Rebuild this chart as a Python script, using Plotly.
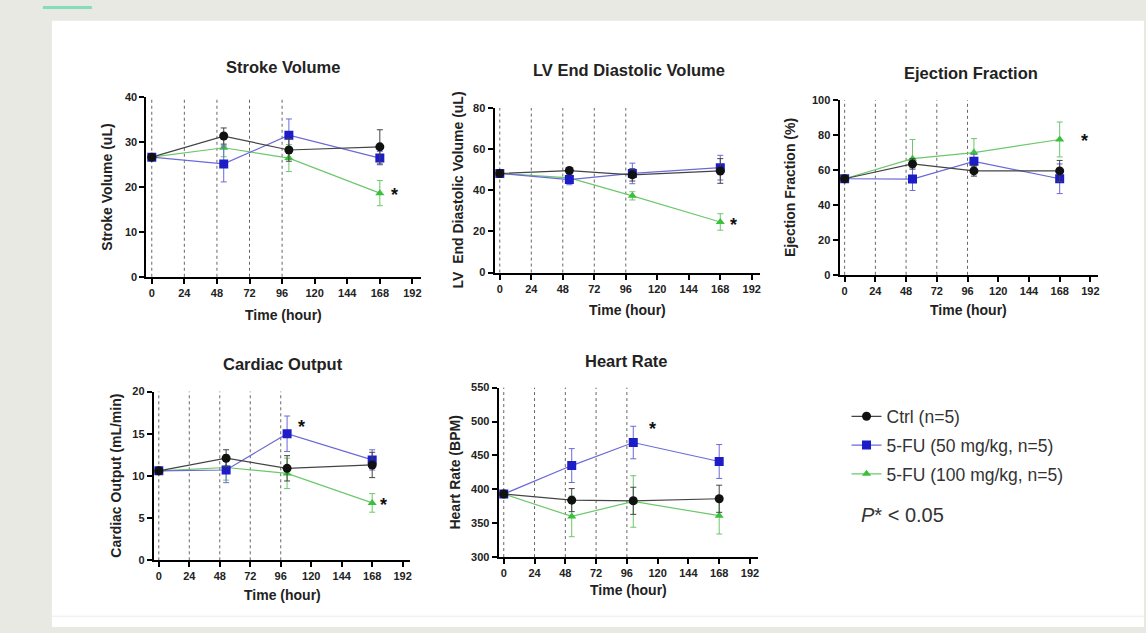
import plotly.graph_objects as go

W, H = 1146, 633

hours = [0, 53, 101, 168]
event_hours = [0, 24, 48, 72, 96]
x_ticks = [0, 24, 48, 72, 96, 120, 144, 168, 192]

series_names = ["Ctrl (n=5)", "5-FU (50 mg/kg, n=5)", "5-FU (100 mg/kg, n=5)"]

sv_ctrl = [26.6, 31.3, 28.2, 28.9]
sv_ctrl_err = [0.5, 1.8, 2.5, 3.8]
sv_fu50 = [26.6, 25.1, 31.5, 26.4]
sv_fu50_err = [0.5, 4.0, 3.6, 1.5]
sv_fu100 = [26.6, 28.7, 26.4, 18.6]
sv_fu100_err = [0.5, 2.0, 3.0, 2.8]

lv_ctrl = [48.2, 49.6, 47.5, 49.4]
lv_ctrl_err = [1.0, 1.5, 3.0, 6.0]
lv_fu50 = [48.2, 45.2, 48.2, 51.0]
lv_fu50_err = [1.0, 2.5, 5.0, 6.0]
lv_fu100 = [48.2, 46.0, 37.3, 24.6]
lv_fu100_err = [1.0, 2.0, 2.0, 4.0]

ef_ctrl = [55.0, 63.5, 59.5, 59.5]
ef_ctrl_err = [1.0, 3.0, 3.0, 6.0]
ef_fu50 = [55.0, 54.8, 65.0, 55.0]
ef_fu50_err = [1.0, 6.5, 4.0, 8.5]
ef_fu100 = [55.0, 66.5, 70.0, 77.5]
ef_fu100_err = [1.0, 11.0, 8.0, 10.0]

co_ctrl = [10.6, 12.1, 10.9, 11.3]
co_ctrl_err = [0.2, 1.0, 1.5, 1.5]
co_fu50 = [10.6, 10.7, 15.0, 11.9]
co_fu50_err = [0.2, 1.5, 2.1, 1.2]
co_fu100 = [10.6, 11.0, 10.3, 6.8]
co_fu100_err = [0.2, 1.5, 1.8, 1.1]

hr_ctrl = [393, 384, 383, 386]
hr_ctrl_err = [3, 17, 20, 20]
hr_fu50 = [393, 435, 469, 441]
hr_fu50_err = [3, 25, 24, 25]
hr_fu100 = [393, 360, 382, 361]
hr_fu100_err = [3, 30, 38, 27]

titles = ["Stroke Volume", "LV End Diastolic Volume", "Ejection Fraction",
          "Cardiac Output", "Heart Rate"]
y_titles = ["Stroke Volume (uL)", "LV  End Diastolic Volume (uL)", "Ejection Fraction (%)",
            "Cardiac Output (mL/min)", "Heart Rate (BPM)"]
y_ranges = [[0, 40], [0, 80], [0, 100], [0, 20], [300, 550]]
y_dticks = [10, 20, 20, 5, 50]

# significance stars: (panel index, hour, value)
stars = [(0, 179, 18.9), (1, 178, 24.5), (2, 187, 78.5),
         (3, 112, 16.2), (3, 177, 6.9), (4, 116, 494)]

panel_data = [
    [(sv_ctrl, sv_ctrl_err), (sv_fu50, sv_fu50_err), (sv_fu100, sv_fu100_err)],
    [(lv_ctrl, lv_ctrl_err), (lv_fu50, lv_fu50_err), (lv_fu100, lv_fu100_err)],
    [(ef_ctrl, ef_ctrl_err), (ef_fu50, ef_fu50_err), (ef_fu100, ef_fu100_err)],
    [(co_ctrl, co_ctrl_err), (co_fu50, co_fu50_err), (co_fu100, co_fu100_err)],
    [(hr_ctrl, hr_ctrl_err), (hr_fu50, hr_fu50_err), (hr_fu100, hr_fu100_err)],
]

# layout geometry (pixels)
x_px = [(146.6, 421.3), (495.4, 761.0), (841.0, 1100.0), (154.0, 411.0), (499.5, 759.0)]
y_px = [(92.7, 276.0), (104.0, 271.7), (96.0, 274.0), (393.0, 565.0), (389.0, 561.7)]
ytitle_x = [107, 459, 792, 116, 456]
title_x = [283, 630, 973, 283, 628]
title_y = [62, 65, 68, 365, 362]
xtitle_y = [315, 310, 310, 600, 595]

marker_colors = ["#111111", "#1d1dc8", "#3cbf3c"]
line_colors = ["#444444", "#6a6ad8", "#6cc86c"]
symbols = ["circle", "square", "triangle-up"]
marker_sizes = [9, 9, 8]

FONT = "Arial, Liberation Sans, sans-serif"

fig = go.Figure()
layout = {}
annotations = []
shapes = []

for p in range(5):
    ax = "" if p == 0 else str(p + 1)
    xd = [x_px[p][0] / W, x_px[p][1] / W]
    yd = [1 - y_px[p][1] / H, 1 - y_px[p][0] / H]
    common = dict(showline=True, linecolor="black", linewidth=2, ticks="outside",
                  ticklen=5, tickwidth=2, tickcolor="black", showgrid=False,
                  zeroline=False, tickfont=dict(family=FONT, size=11, color="#222", weight="bold"),
                  fixedrange=True)
    layout["xaxis" + ax] = dict(domain=xd, range=[-4, 198], tickvals=x_ticks,
                                anchor="y" + ax, **common)
    layout["yaxis" + ax] = dict(domain=yd, range=y_ranges[p], dtick=y_dticks[p],
                                tick0=y_ranges[p][0], anchor="x" + ax, **common)

    for h in event_hours:
        shapes.append(dict(type="line", xref="x" + ax, yref="y" + ax + " domain",
                           x0=h, x1=h, y0=0, y1=1,
                           line=dict(color="#666666", width=1, dash="dot"), layer="below"))

    for s in [2, 1, 0]:
        vals, errs = panel_data[p][s]
        fig.add_trace(go.Scatter(
            x=hours, y=vals, xaxis="x" + ax, yaxis="y" + ax,
            mode="lines+markers", name=series_names[s],
            legendrank=s + 1, showlegend=(p == 0), legendgroup="g%d" % s,
            line=dict(color=line_colors[s], width=1.2),
            marker=dict(symbol=symbols[s], size=marker_sizes[s], color=marker_colors[s]),
            error_y=dict(type="data", array=errs, visible=True, color=line_colors[s],
                         thickness=1, width=3),
        ))

    cx = (x_px[p][0] + x_px[p][1]) / 2 / W
    # panel title
    annotations.append(dict(text=titles[p], xref="paper", yref="paper",
                            x=title_x[p] / W, y=1 - title_y[p] / H,
                            xanchor="center", yanchor="middle", showarrow=False,
                            font=dict(family=FONT, size=16.5, color="#222", weight="bold")))
    # y title
    annotations.append(dict(text=y_titles[p], xref="paper", yref="paper",
                            x=ytitle_x[p] / W, y=1 - (y_px[p][0] + y_px[p][1]) / 2 / H,
                            xanchor="center", yanchor="middle",
                            textangle=-90, showarrow=False,
                            font=dict(family=FONT, size=14, color="#222", weight="bold")))
    # x title
    annotations.append(dict(text="Time (hour)", xref="paper", yref="paper",
                            x=cx, y=1 - xtitle_y[p] / H, xanchor="center", yanchor="middle",
                            showarrow=False,
                            font=dict(family=FONT, size=14, color="#222", weight="bold")))

for (p, h, v) in stars:
    ax = "" if p == 0 else str(p + 1)
    annotations.append(dict(text="*", xref="x" + ax, yref="y" + ax, x=h, y=v,
                            xanchor="center", yanchor="middle",
                            showarrow=False, yshift=-3,
                            font=dict(family=FONT, size=18, color="#111", weight="bold")))

annotations.append(dict(text="<i>P</i>* < 0.05", xref="paper", yref="paper",
                        x=861 / W, y=1 - 519 / H, xanchor="left", yanchor="middle",
                        showarrow=False,
                        font=dict(family=FONT, size=20, color="#333")))

# background panels
shapes.insert(0, dict(type="rect", xref="paper", yref="paper", x0=52 / W, x1=1,
                      y0=0, y1=1 - 15 / H, fillcolor="white", line=dict(width=0), layer="below"))
shapes.append(dict(type="line", xref="paper", yref="paper", x0=52 / W, x1=1,
                   y0=1 - 622 / H, y1=1 - 622 / H, line=dict(color="#ececec", width=1)))
shapes.append(dict(type="rect", xref="paper", yref="paper", x0=43 / W, x1=92 / W,
                   y0=1 - 3 / H, y1=1, fillcolor="#86dcb6", line=dict(width=0)))

fig.update_layout(
    width=W, height=H, margin=dict(l=0, r=0, t=0, b=0),
    paper_bgcolor="#e9e9e4", plot_bgcolor="rgba(0,0,0,0)",
    showlegend=True,
    legend=dict(x=848 / W, y=1 - 400 / H, xanchor="left", yanchor="top",
                bgcolor="rgba(0,0,0,0)", font=dict(family=FONT, size=17.5, color="#333"),
                tracegroupgap=3, itemwidth=30, traceorder="grouped"),
    annotations=annotations, shapes=shapes,
    **layout,
)

fig.write_html("out.html", config={"displayModeBar": False},
               post_script="document.body.style.margin='0px';document.body.style.overflow='hidden';")
